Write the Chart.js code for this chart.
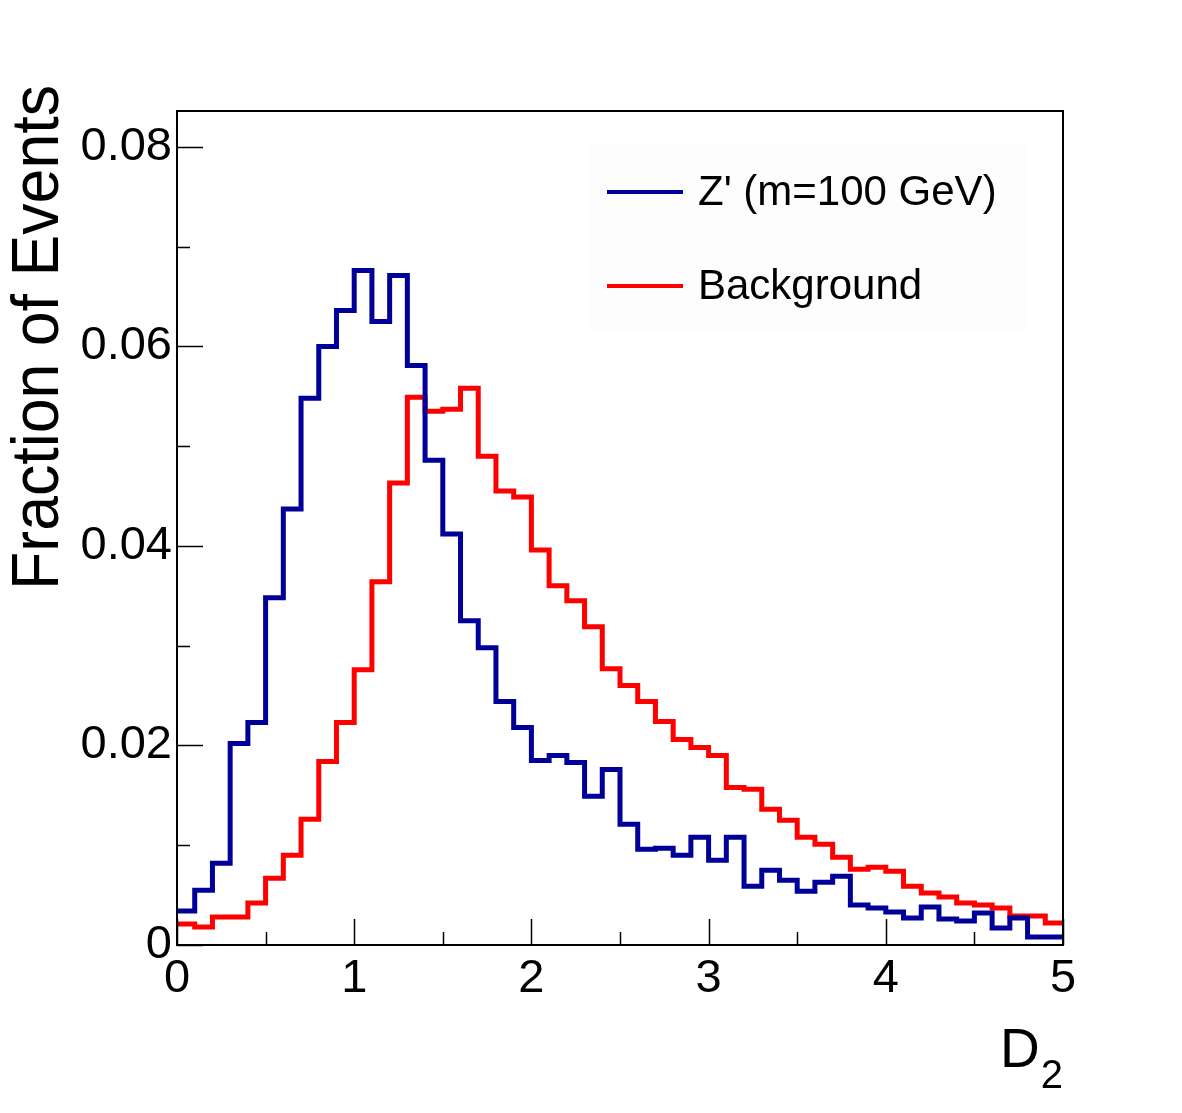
<!DOCTYPE html>
<html>
<head>
<meta charset="utf-8">
<script src="https://cdn.jsdelivr.net/npm/chart.js@4.4.1/dist/chart.umd.min.js"></script>
<style>
  html, body { margin: 0; padding: 0; background: #fff; }
  #wrap { width: 1182px; height: 1113px; }
</style>
</head>
<body>
<div id="wrap"><canvas id="hist" width="1182" height="1113"></canvas></div>
<script>
// bin edges of the D2 histogram (50 bins, 0 to 5)
const binEdges = [
  0.0, 0.1, 0.2, 0.3, 0.4, 0.5, 0.6, 0.7, 0.8, 0.9,
  1.0, 1.1, 1.2, 1.3, 1.4, 1.5, 1.6, 1.7, 1.8, 1.9,
  2.0, 2.1, 2.2, 2.3, 2.4, 2.5, 2.6, 2.7, 2.8, 2.9,
  3.0, 3.1, 3.2, 3.3, 3.4, 3.5, 3.6, 3.7, 3.8, 3.9,
  4.0, 4.1, 4.2, 4.3, 4.4, 4.5, 4.6, 4.7, 4.8, 4.9, 5.0
];

// Z' (m=100 GeV) signal, fraction of events per bin
const signalValues = [
  0.0034, 0.0055, 0.0082, 0.0202, 0.0223, 0.0348, 0.0437, 0.0548, 0.0600, 0.0636,
  0.0676, 0.0625, 0.0671, 0.0581, 0.0486, 0.0412, 0.0325, 0.0298, 0.0244, 0.0218,
  0.0185, 0.0190, 0.0183, 0.0149, 0.0176, 0.0121, 0.0096, 0.0097, 0.0090, 0.0108,
  0.0085, 0.0108, 0.0059, 0.0075, 0.0065, 0.0054, 0.0063, 0.0069, 0.0040, 0.0037,
  0.0033, 0.0027, 0.0038, 0.0026, 0.0024, 0.0032, 0.0017, 0.0027, 0.0008, 0.0008
];

// background, fraction of events per bin
const backgroundValues = [
  0.0021, 0.0018, 0.0028, 0.0028, 0.0042, 0.0067, 0.0090, 0.0126, 0.0184, 0.0223,
  0.0276, 0.0364, 0.0463, 0.0549, 0.0535, 0.0537, 0.0558, 0.0490, 0.0455, 0.0449,
  0.0396, 0.0360, 0.0345, 0.0319, 0.0277, 0.0260, 0.0244, 0.0224, 0.0206, 0.0198,
  0.0190, 0.0158, 0.0156, 0.0136, 0.0125, 0.0108, 0.0101, 0.0088, 0.0076, 0.0078,
  0.0074, 0.0059, 0.0052, 0.0048, 0.0042, 0.0040, 0.0037, 0.0029, 0.0029, 0.0022
];

const seriesLabels = ["Z' (m=100 GeV)", "Background"];
const xTitle = "D";
const xTitleSub = "2";
const yTitle = "Fraction of Events";

const FONT = "'Liberation Sans', Arial, Helvetica, sans-serif";

// step points: one per bin low edge, plus the last upper edge
function toSteps(values) {
  const pts = values.map((v, i) => ({ x: binEdges[i], y: v }));
  pts.push({ x: binEdges[values.length], y: values[values.length - 1] });
  return pts;
}

const rootStyle = {
  id: "rootStyle",
  beforeDraw(chart) {
    const ctx = chart.ctx;
    ctx.save();
    ctx.fillStyle = "#fff";
    ctx.fillRect(0, 0, chart.width, chart.height);
    ctx.restore();
  },
  afterDraw(chart) {
    const { ctx, chartArea: a, scales } = chart;
    const x = scales.x, y = scales.y;
    ctx.save();

    // frame
    ctx.strokeStyle = "#000";
    ctx.lineWidth = 2;
    ctx.strokeRect(a.left, a.top, a.right - a.left, a.bottom - a.top);

    // inward tick marks (major + one minor between)
    ctx.beginPath();
    for (let v = 0; v <= y.max + 1e-9; v += 0.01) {
      const py = Math.round(y.getPixelForValue(v)) + 0.5;
      const major = Math.abs(v / 0.02 - Math.round(v / 0.02)) < 1e-6;
      ctx.moveTo(a.left, py);
      ctx.lineTo(a.left + (major ? 26 : 13), py);
    }
    for (let v = 0; v <= x.max + 1e-9; v += 0.5) {
      const px = Math.round(x.getPixelForValue(v)) + 0.5;
      const major = Math.abs(v - Math.round(v)) < 1e-6;
      ctx.moveTo(px, a.bottom);
      ctx.lineTo(px, a.bottom - (major ? 26 : 13));
    }
    ctx.lineWidth = 1.5;
    ctx.stroke();

    // y title, rotated, top-aligned like ROOT
    ctx.fillStyle = "#000";
    ctx.font = "66px " + FONT;
    const w = ctx.measureText(yTitle).width;
    ctx.translate(58, 590);
    ctx.rotate(-Math.PI / 2);
    ctx.scale(505 / w, 1);
    ctx.textAlign = "left";
    ctx.textBaseline = "alphabetic";
    ctx.fillText(yTitle, 0, 0);
    ctx.setTransform(1, 0, 0, 1, 0, 0);

    // x title with subscript, right-aligned at the axis end
    ctx.textAlign = "right";
    ctx.textBaseline = "alphabetic";
    ctx.font = "40px " + FONT;
    const subW = ctx.measureText(xTitleSub).width;
    ctx.fillText(xTitleSub, a.right, 1088);
    ctx.font = "55px " + FONT;
    ctx.fillText(xTitle, a.right - subW - 1, 1067);

    // legend
    ctx.fillStyle = "#fdfdfd";
    ctx.fillRect(590, 143, 438, 187);
    const rows = [192, 286];
    chart.data.datasets.forEach((ds, i) => {
      ctx.strokeStyle = ds.borderColor;
      ctx.lineWidth = 4;
      ctx.beginPath();
      ctx.moveTo(607, rows[i]);
      ctx.lineTo(683, rows[i]);
      ctx.stroke();
      ctx.fillStyle = "#000";
      ctx.font = "42px " + FONT;
      ctx.textAlign = "left";
      ctx.fillText(ds.label, 698, rows[i] + 13);
    });
    ctx.restore();
  }
};

new Chart(document.getElementById("hist"), {
  type: "line",
  data: {
    datasets: [
      {
        label: seriesLabels[0],
        data: toSteps(signalValues),
        borderColor: "#000099",
        borderWidth: 5,
        stepped: true,
        pointRadius: 0,
        fill: false
      },
      {
        label: seriesLabels[1],
        data: toSteps(backgroundValues),
        borderColor: "#ff0000",
        borderWidth: 5,
        stepped: true,
        pointRadius: 0,
        fill: false
      }
    ]
  },
  options: {
    responsive: false,
    animation: false,
    layout: { padding: { left: 0, top: 111, right: 119, bottom: 0 } },
    plugins: {
      legend: { display: false },
      tooltip: { enabled: false }
    },
    scales: {
      x: {
        type: "linear",
        min: 0,
        max: 5,
        grid: { display: false, drawTicks: false },
        border: { display: false },
        ticks: {
          stepSize: 1,
          padding: 6,
          color: "#000",
          font: { family: FONT, size: 47 },
          maxRotation: 0,
          callback: (v) => String(v)
        },
        afterFit: (s) => { s.height = 168; }
      },
      y: {
        type: "linear",
        min: 0,
        max: 0.0836,
        grid: { display: false, drawTicks: false },
        border: { display: false },
        ticks: {
          stepSize: 0.02,
          includeBounds: false,
          padding: 5,
          color: "#000",
          font: { family: FONT, size: 47 },
          callback: (v) => (v === 0 ? "0" : v.toFixed(2))
        },
        afterFit: (s) => { s.width = 177; }
      }
    }
  },
  plugins: [rootStyle]
});
</script>
</body>
</html>
